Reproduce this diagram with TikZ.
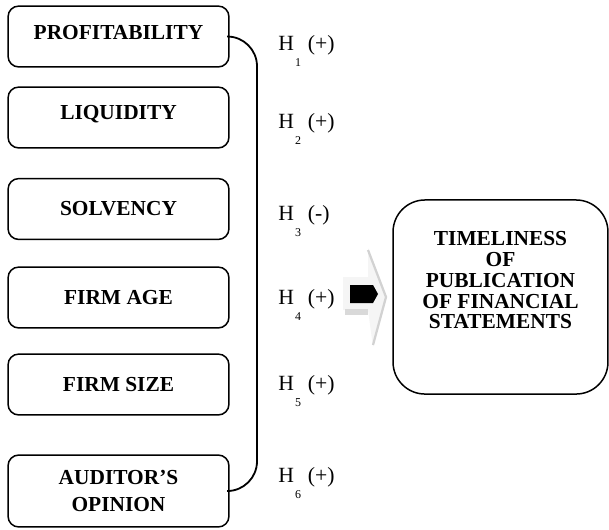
\documentclass[tikz,border=0pt]{standalone}
\usepackage{fontspec}
\setmainfont{Liberation Serif}
\usetikzlibrary{positioning}

% hypothesis label: H, a lowered index and the expected sign
\newcommand{\hyplabel}[2]{H\kern0.8pt\raisebox{-11pt}{\fontsize{8}{9}\selectfont #1}\kern4.5pt(#2)}

\begin{document}
\begin{tikzpicture}[x=0.0235cm, y=-0.0235cm,
    factor/.style={draw, line width=1pt, rounded corners=0.25cm,
                   minimum width=5.19cm, minimum height=1.43cm, align=center,
                   font=\fontsize{14.3}{17.5}\selectfont\bfseries},
    outcome/.style={draw, line width=1pt, rounded corners=0.75cm,
                    minimum width=5.05cm, minimum height=4.56cm, align=center,
                    font=\fontsize{14.3}{14}\selectfont\bfseries,
                    text depth=0.8cm},
    hyp/.style={anchor=base west, inner sep=0pt,
                font=\fontsize{14.5}{16}\selectfont},
    link/.style={line width=1.2pt, rounded corners=0.7cm},
  ]
  \useasboundingbox (0,0) rectangle (609,529);

  % independent variables
  \node[factor, text depth=0.17cm] (prof) at (118.5,36.5) {PROFITABILITY};
  \node[factor, text depth=0.22cm] (liq)  at (118.5,117.5) {LIQUIDITY};
  \node[factor] (solv) at (118.5,209) {SOLVENCY};
  \node[factor] (age)  at (118.5,297.5) {FIRM AGE};
  \node[factor] (size) at (118.5,384.5) {FIRM SIZE};
  \node[factor, minimum height=1.69cm] (opin) at (118.5,491)
       {AUDITOR'S\\OPINION};

  % dependent variable
  \node[outcome] (tim) at (500.5,297)
       {TIMELINESS\\OF\\PUBLICATION\\OF FINANCIAL\\STATEMENTS};

  % bracket joining the factors
  \coordinate (brk) at (257,263);
  \draw[link] (prof.east) -| (brk) |- (opin.east);

  % hypotheses
  \node[hyp] (h1) at (278,50)  {\hyplabel{1}{+}};
  \node[hyp] (h2) at (278,128) {\hyplabel{2}{+}};
  \node[hyp] (h3) at (278,220) {\hyplabel{3}{-}};
  \node[hyp] (h4) at (278,304) {\hyplabel{4}{+}};
  \node[hyp] (h5) at (278,390) {\hyplabel{5}{+}};
  \node[hyp] (h6) at (278,482) {\hyplabel{6}{+}};

  % block arrow towards the outcome
  \fill[gray!8] (343,277) -- (368,277) -- (368,248) -- (387,297)
                -- (373,347) -- (368,310) -- (343,310) -- cycle;
  \draw[gray!35, line width=1.5pt] (368,250) -- (386,297) -- (373,345);
  \fill[gray!30] (345,309) rectangle (368,315);
  \fill[black] (350,285) -- (373,285) -- (378,294) -- (373,303)
               -- (350,303) -- cycle;
\end{tikzpicture}
\end{document}
